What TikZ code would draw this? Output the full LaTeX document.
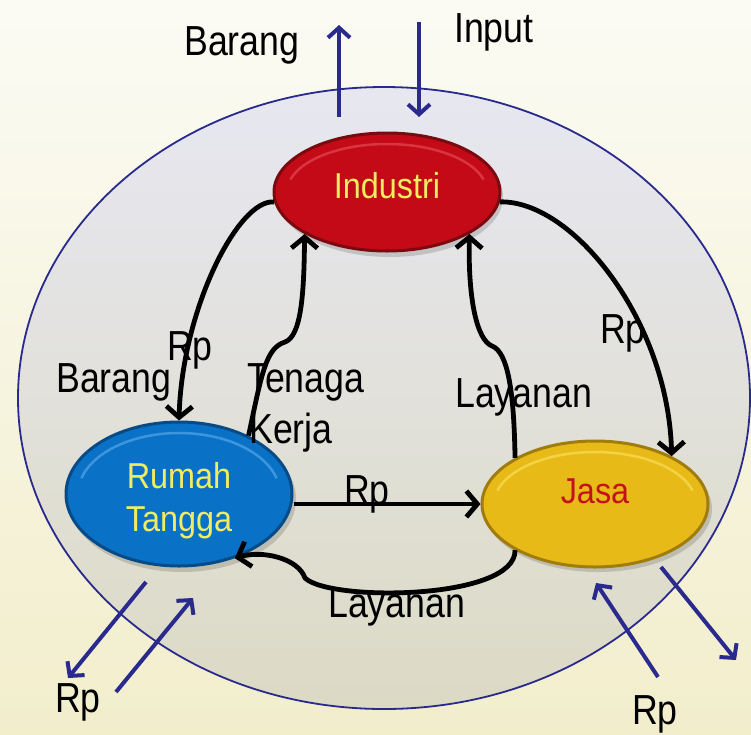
\documentclass[tikz,border=0pt]{standalone}
\usepackage{fontspec}
\setmainfont{Liberation Sans}
\newfontfamily\narrowfont{Liberation Sans}[FakeStretch=0.85]
\newfontfamily\innerfont{Liberation Sans}[FakeStretch=0.9]
\usetikzlibrary{shapes.geometric,arrows.meta,calc}
\definecolor{bgtop}{HTML}{FBFBF4}
\definecolor{bgbot}{HTML}{F2EECC}
\definecolor{ringtop}{HTML}{E7E7F1}
\definecolor{ringbot}{HTML}{DCDAC4}
\definecolor{navy}{HTML}{2A2A8E}
\definecolor{indred}{HTML}{C30A16}
\definecolor{inddark}{HTML}{7A0A10}
\definecolor{indlight}{HTML}{E0404A}
\definecolor{rtblue}{HTML}{0A72C6}
\definecolor{rtdark}{HTML}{064A86}
\definecolor{rtlight}{HTML}{4A9EE4}
\definecolor{jsyel}{HTML}{E8BA18}
\definecolor{jsdark}{HTML}{A07C0C}
\definecolor{jslight}{HTML}{F6D850}
\definecolor{txtyel}{HTML}{F2EC62}
\definecolor{txtred}{HTML}{C4121C}
\begin{document}
\begin{tikzpicture}[x=1pt,y=-1pt,
  lbl/.style={font=\narrowfont\fontsize{42}{46}\selectfont, inner sep=0pt, anchor=base west, text=black},
  intext/.style={font=\innerfont\fontsize{36}{40}\selectfont, inner sep=0pt, anchor=base},
  blob/.style={ellipse, inner sep=0pt, line width=3pt},
  flow/.style={line width=4.8pt, black, -{Straight Barb[length=11pt,width=26pt]}},
  ext/.style={line width=4pt, navy, -{Straight Barb[length=10pt,width=22pt]}},
  shadowfill/.style={fill=black, opacity=0.15},
  hl/.style={line width=2.5pt, opacity=0.8}
]
\useasboundingbox (0,0) rectangle (751,734);
\shade[top color=bgtop, bottom color=bgbot] (0,0) rectangle (751,734);

% outer economy ellipse
\shade[top color=ringtop, bottom color=ringbot] (384,398) ellipse [x radius=366, y radius=311];
\draw[navy, line width=1.8pt] (384,398) ellipse [x radius=366, y radius=311];

% shadows
\fill[shadowfill] (390,197) ellipse [x radius=113, y radius=60];
\fill[shadowfill] (182,499) ellipse [x radius=114, y radius=73];
\fill[shadowfill] (598,509) ellipse [x radius=114, y radius=63];

% main nodes
\node[blob, fill=indred, draw=inddark, minimum width=226pt, minimum height=118pt] (ind) at (387,192) {};
\node[blob, fill=rtblue, draw=rtdark, minimum width=226pt, minimum height=144pt] (rt) at (179,494) {};
\node[blob, fill=jsyel, draw=jsdark, minimum width=226pt, minimum height=126pt] (js) at (595,504) {};

% bevel highlights
\draw[hl, indlight] (ind.center) ++(195:100 and 48) arc[start angle=195, end angle=345, x radius=100, y radius=48];
\draw[hl, rtlight] (rt.center) ++(195:101 and 61) arc[start angle=195, end angle=345, x radius=101, y radius=61];
\draw[hl, jslight] (js.center) ++(195:101 and 52) arc[start angle=195, end angle=345, x radius=101, y radius=52];

% node texts
\node[intext, text=txtyel] (indt) at (387,198) {Industri};
\node[intext, text=txtyel] (rt1) at (179,488) {Rumah};
\node[intext, text=txtyel] (rt2) at (179,531) {Tangga};
\node[intext, text=txtred] (jst) at (595,503) {Jasa};

% internal flows
\draw[flow] (ind.185) .. controls (238,199) and (182,310) .. (rt.north);
\draw[flow] (ind.355) .. controls (572,200) and (668,320) .. (js.32);
\draw[flow] (rt.40) .. controls (262,372) and (266,348) .. (285,342)
                    .. controls (301,336) and (304,296) .. (ind.207);
\draw[flow] (js.150) .. controls (514,392) and (508,352) .. (492,346)
                     .. controls (477,340) and (468,300) .. (ind.333);
\draw[flow] (rt.east |- js.west) -- (js.west);
\draw[flow] (js.210) .. controls (516,600) and (330,602) .. (305,578)
                     .. controls (298,558) and (262,550) .. (rt.311);

% external flows
\coordinate (bu0) at (339,117); \coordinate (bu1) at (339,25);
\coordinate (bd0) at (419,22);  \coordinate (bd1) at (419,117);
\coordinate (lo0) at (146,582); \coordinate (lo1) at (68,678);
\coordinate (li0) at (116,692); \coordinate (li1) at (193,598);
\coordinate (ri0) at (658,677); \coordinate (ri1) at (596,583);
\coordinate (ro0) at (661,567); \coordinate (ro1) at (736,660);
\draw[ext] (bu0) -- (bu1);
\draw[ext] (bd0) -- (bd1);
\draw[ext] (lo0) -- (lo1);
\draw[ext] (li0) -- (li1);
\draw[ext] (ri0) -- (ri1);
\draw[ext] (ro0) -- (ro1);

% labels
\node[lbl] (l1) at (184,55) {Barang};
\node[lbl] (l2) at (454,42) {Input};
\node[lbl] (l3) at (167,360) {Rp};
\node[lbl] (l4) at (56,392) {Barang};
\node[lbl] (l5) at (247,392) {Tenaga};
\node[lbl] (l6) at (249,443) {Kerja};
\node[lbl] (l7) at (455,407) {Layanan};
\node[lbl] (l8) at (600,343) {Rp};
\node[lbl] (l9) at (344,504) {Rp};
\node[lbl] (l10) at (328,617) {Layanan};
\node[lbl] (l11) at (55,712) {Rp};
\node[lbl] (l12) at (632,724) {Rp};
\end{tikzpicture}
\end{document}
